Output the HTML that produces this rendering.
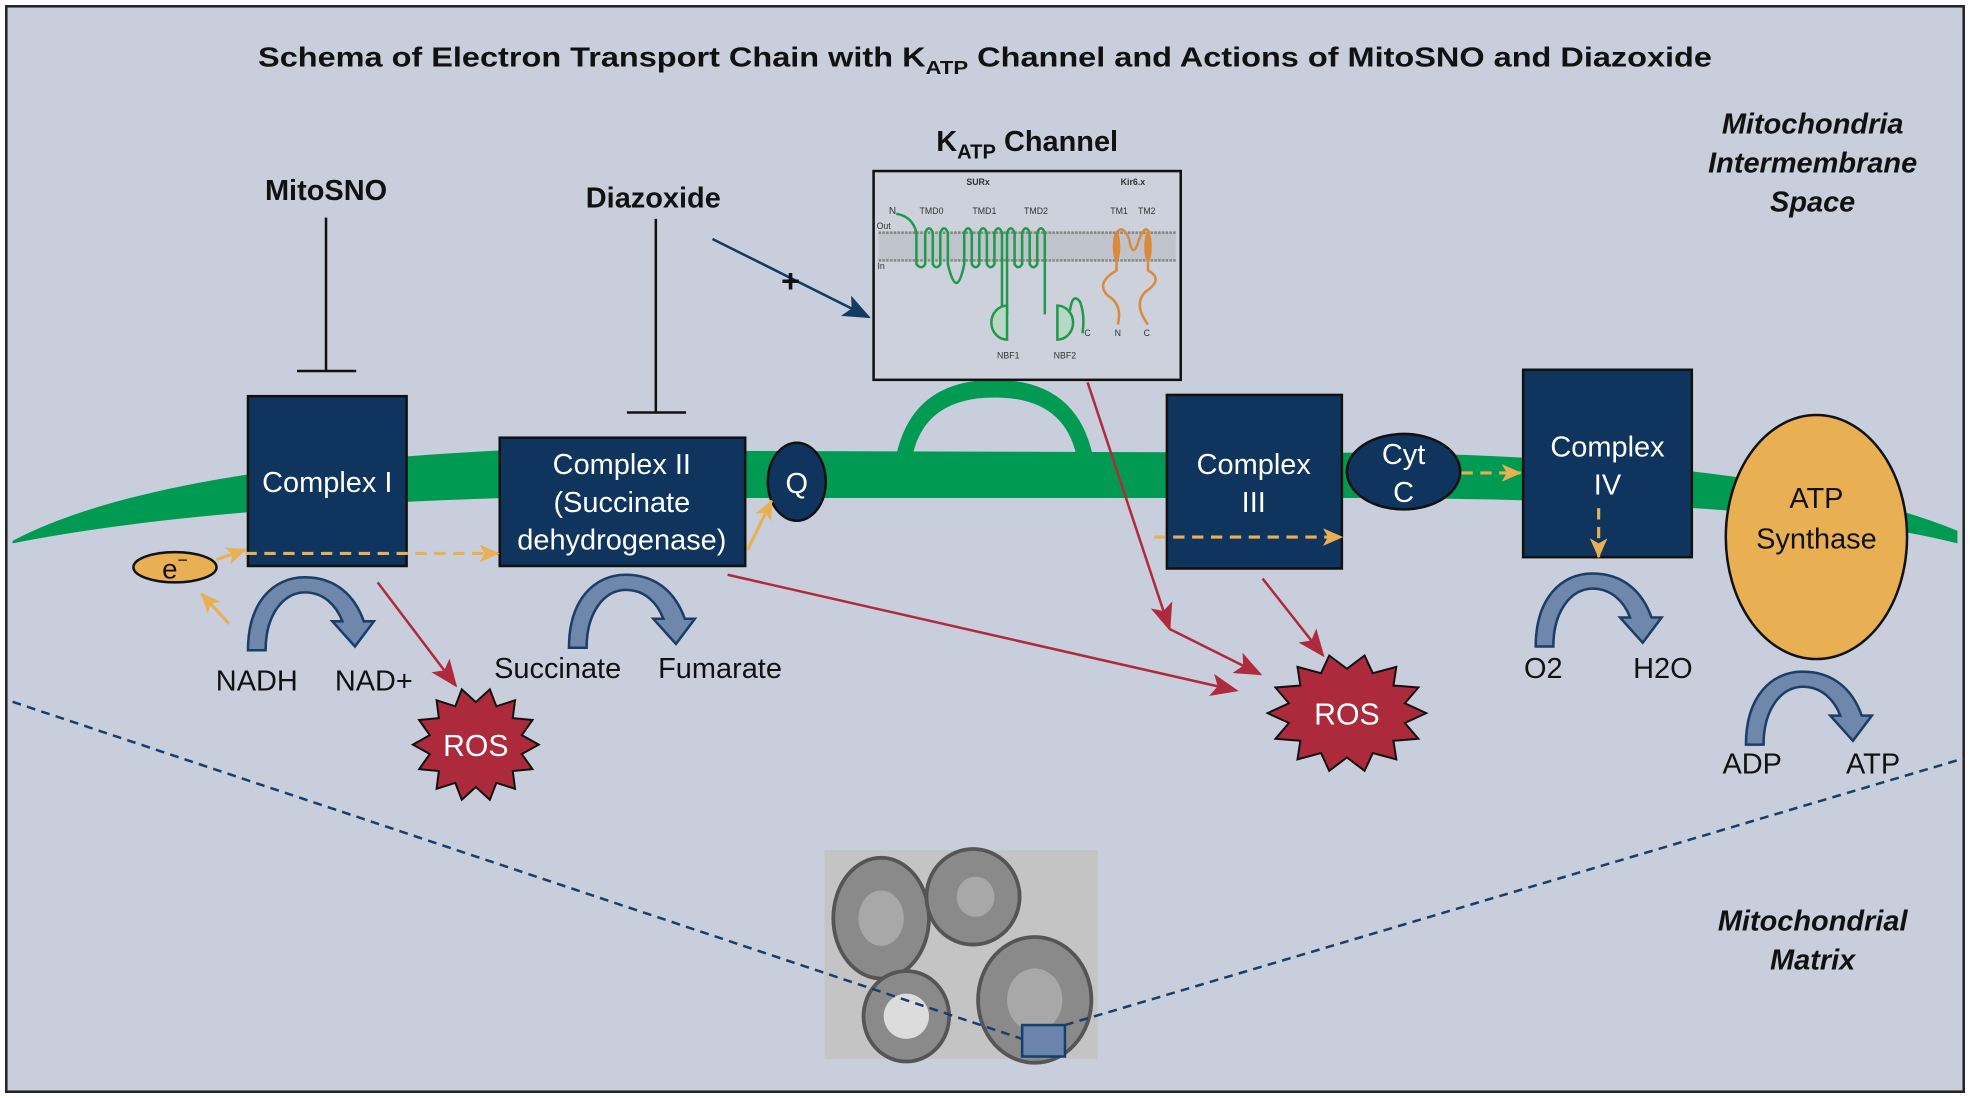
<!DOCTYPE html>
<html><head><meta charset="utf-8"><style>
html,body{margin:0;padding:0;background:#fff}
svg{display:block}
text{font-family:"Liberation Sans",sans-serif}
</style></head><body>
<svg width="1970" height="1098" viewBox="0 0 1565 873" preserveAspectRatio="none" xmlns="http://www.w3.org/2000/svg">
<defs>
<polygon id="star" vector-effect="non-scaling-stroke" points="1,0 .731,.167 .901,.434 .587,.467 .623,.782 .326,.676 .223,.975 0,.75 -.223,.975 -.326,.676 -.623,.782 -.587,.467 -.901,.434 -.731,.167 -1,0 -.731,-.167 -.901,-.434 -.587,-.467 -.623,-.782 -.326,-.676 -.223,-.975 0,-.75 .223,-.975 .326,-.676 .623,-.782 .587,-.467 .901,-.434 .731,-.167"/>
<path id="arc" d="M0,58 C0,20 20,0 45,0 C70,0 85,15 92,35 L100,35 L85,55 L67,35 L75,35 C70,22 60,12 45,12 C28,12 14,30 14,58 Z" fill="#6e87ab" stroke="#1b3d66" stroke-width="2"/>
<marker id="rr" markerWidth="22" markerHeight="22" refX="20" refY="11" orient="auto" markerUnits="userSpaceOnUse"><path d="M0,2 L22,11 L0,20 L5,11Z" fill="#b02a3d"/></marker>
<marker id="oa" markerWidth="16" markerHeight="16" refX="15" refY="8" orient="auto" markerUnits="userSpaceOnUse"><path d="M0,1 L16,8 L0,15 L4,8Z" fill="#e8b052"/></marker>
<marker id="na" markerWidth="22" markerHeight="22" refX="20" refY="11" orient="auto" markerUnits="userSpaceOnUse"><path d="M0,2 L22,11 L0,20 L5,11Z" fill="#123a63"/></marker>
</defs>
<rect x="0" y="0" width="1565" height="873" fill="#fff"/>
<rect x="5" y="5" width="1555" height="863" fill="#c8cedb" stroke="#222" stroke-width="2"/>
<text x="205" y="53" font-size="22" font-weight="bold" fill="#111" textLength="1155" lengthAdjust="spacingAndGlyphs">Schema of Electron Transport Chain with K<tspan font-size="15" dy="6">ATP</tspan><tspan dy="-6"> Channel and Actions of MitoSNO and Diazoxide</tspan></text>
<g font-size="23" font-weight="bold" font-style="italic" text-anchor="middle" fill="#111">
<text x="1440" y="106">Mitochondria</text><text x="1440" y="137">Intermembrane</text><text x="1440" y="168">Space</text>
<text x="1440" y="740">Mitochondrial</text><text x="1440" y="771">Matrix</text>
</g>
<!-- membrane -->
<path d="M10,430 Q120,372 400,358 L1100,360 Q1420,366 1555,422 L1555,432 Q1420,398 1100,396 L400,396 Q150,404 10,432 Z" fill="#009a52"/>
<path d="M712,362 Q725,302 790,302 Q855,302 868,362 L855,362 Q845,316 790,316 Q735,316 725,362 Z" fill="#009a52"/>
<!-- micrograph -->
<rect x="655" y="676" width="217" height="166" fill="#c4c4c4"/>
<g fill="#8a8a8a" stroke="#555" stroke-width="3">
<ellipse cx="700" cy="730" rx="38" ry="48"/><ellipse cx="773" cy="713" rx="37" ry="38"/><ellipse cx="822" cy="795" rx="45" ry="50"/><ellipse cx="720" cy="808" rx="34" ry="36"/>
</g>
<g fill="#a8a8a8"><ellipse cx="700" cy="730" rx="18" ry="22"/><ellipse cx="775" cy="713" rx="15" ry="16"/><ellipse cx="822" cy="795" rx="22" ry="25"/><ellipse cx="720" cy="808" rx="18" ry="18" fill="#dcdcdc"/></g>
<path d="M10,558 L812,826 M846,815 L1560,603" stroke="#173f6b" stroke-width="2" stroke-dasharray="7,5" fill="none"/>
<rect x="812" y="815" width="34" height="25" fill="#6b84ad" stroke="#173f6b" stroke-width="2"/>
<!-- inhibitors -->
<text x="259" y="159" font-size="23" font-weight="bold" text-anchor="middle" fill="#111">MitoSNO</text>
<path d="M259,173 V295 M236,295 H283" stroke="#111" stroke-width="2"/>
<text x="519" y="165" font-size="23" font-weight="bold" text-anchor="middle" fill="#111">Diazoxide</text>
<path d="M521,174 V328 M498,328 H545" stroke="#111" stroke-width="2"/>
<path d="M566,190 L690,252" stroke="#123a63" stroke-width="2" marker-end="url(#na)"/>
<text x="628" y="232" font-size="26" font-weight="bold" text-anchor="middle" fill="#111">+</text>
<!-- KATP -->
<text x="816" y="120" font-size="23" font-weight="bold" text-anchor="middle" fill="#111">K<tspan font-size="16" dy="6">ATP</tspan><tspan dy="-6"> Channel</tspan></text>
<rect x="694" y="136" width="244" height="166" fill="#ccd1dc" stroke="#111" stroke-width="2"/>
<rect x="698" y="184" width="236" height="24" fill="#bfc4cc"/>
<path d="M698,185 H934 M698,207 H934" stroke="#888" stroke-width="2" stroke-dasharray="2,1"/>
<g font-size="7" fill="#333" text-anchor="middle"><text x="777" y="147" font-weight="bold">SURx</text><text x="900" y="147" font-weight="bold">Kir6.x</text><text x="740" y="170">TMD0</text><text x="782" y="170">TMD1</text><text x="823" y="170">TMD2</text><text x="889" y="170">TM1</text><text x="911" y="170">TM2</text><text x="709" y="170" font-size="8">N</text><text x="702" y="182">Out</text><text x="700" y="214">In</text><text x="864" y="267">C</text><text x="888" y="267">N</text><text x="911" y="267">C</text><text x="801" y="285">NBF1</text><text x="846" y="285">NBF2</text></g>
<path d="M712,170 Q725,172 728,185 V210 Q732,215 735,210 V185 Q738,178 741,185 V210 Q744,215 747,210 V185 Q750,178 753,185 V210 Q760,240 766,210 V185 Q769,178 772,185 V210 Q775,215 778,210 V185 Q781,178 784,185 V210 Q787,215 790,210 V185 Q793,178 796,185 V250 M800,250 V210 V185 Q803,178 806,185 V210 Q809,215 812,210 V185 Q815,178 818,185 V210 Q821,215 824,210 V185 Q827,178 830,185 V250 M850,247 Q852,232 858,240 Q862,250 860,265" stroke="#1f9a4a" stroke-width="2" fill="none"/>
<path d="M800,243 A12,13 0 1,0 800,270 Z M840,243 A12,13 0 1,1 840,270 Z" fill="#b9d8c4" stroke="#1f9a4a" stroke-width="2"/>
<path d="M887,185 Q892,178 897,190 Q900,208 905,190 Q910,178 913,185 M887,205 V215 Q870,225 880,235 Q892,242 888,258 M912,205 V215 Q925,222 910,232 Q900,242 912,258" stroke="#d98a3a" stroke-width="2" fill="none"/>
<ellipse cx="887" cy="196" rx="3" ry="12" fill="#d98a3a"/><ellipse cx="912" cy="196" rx="3" ry="12" fill="#d98a3a"/>
<!-- complexes -->
<g fill="#0f355e" stroke="#111" stroke-width="2">
<rect x="197" y="315" width="126" height="135"/>
<rect x="397" y="348" width="195" height="102"/>
<ellipse cx="633" cy="383" rx="23" ry="31"/>
<rect x="927" y="314" width="139" height="138"/>
<ellipse cx="1115" cy="375" rx="45" ry="30"/>
<rect x="1210" y="294" width="134" height="149"/>
</g>
<ellipse cx="1443" cy="427" rx="72" ry="97" fill="#e8b052" stroke="#111" stroke-width="2"/>
<g font-size="23" fill="#fff" text-anchor="middle">
<text x="260" y="391">Complex I</text>
<text x="494" y="377">Complex II</text><text x="494" y="407">(Succinate</text><text x="494" y="437">dehydrogenase)</text>
<text x="633" y="392">Q</text>
<text x="996" y="377">Complex</text><text x="996" y="407">III</text>
<text x="1115" y="369">Cyt</text><text x="1115" y="399">C</text>
<text x="1277" y="363">Complex</text><text x="1277" y="393">IV</text>
<text x="1443" y="404" fill="#111">ATP</text><text x="1443" y="436" fill="#111">Synthase</text>
</g>
<!-- electron -->
<ellipse cx="139" cy="451" rx="33" ry="12" fill="#e8b052" stroke="#111" stroke-width="2"/>
<text x="139" y="460" font-size="22" text-anchor="middle" fill="#111">e<tspan font-size="14" dy="-10">−</tspan></text>
<g stroke="#e8b052" stroke-width="2.5" fill="none">
<path d="M182,496 L160,472" marker-end="url(#oa)"/>
<path d="M172,445 L195,437" marker-end="url(#oa)"/>
<path d="M195,440 H396" stroke-dasharray="9,6" marker-end="url(#oa)"/>
<path d="M594,437 L613,398" marker-end="url(#oa)"/>
<path d="M917,427 H1066" stroke-dasharray="9,6" marker-end="url(#oa)"/>
<path d="M1161,376 H1208" stroke-dasharray="9,6" marker-end="url(#oa)"/>
<path d="M1270,404 V443" stroke-dasharray="9,6" marker-end="url(#oa)"/>
</g>
<!-- red arrows -->
<g stroke="#b02a3d" stroke-width="2" fill="none">
<path d="M300,463 L362,545" marker-end="url(#rr)"/>
<path d="M578,457 L982,549" marker-end="url(#rr)"/>
<path d="M864,304 L929,500" marker-end="url(#rr)"/>
<path d="M929,500 L1001,536" marker-end="url(#rr)"/>
<path d="M1003,460 L1051,521" marker-end="url(#rr)"/>
</g>
<!-- ROS -->
<use href="#star" transform="translate(378,592) scale(50,45)" fill="#ad2a3c" stroke="#111" stroke-width="2"/>
<use href="#star" transform="translate(1070,567) scale(63,47)" fill="#ad2a3c" stroke="#111" stroke-width="2"/>
<text x="378" y="601" font-size="24" fill="#fff" text-anchor="middle">ROS</text>
<text x="1070" y="576" font-size="24" fill="#fff" text-anchor="middle">ROS</text>
<!-- curved arrows -->
<use href="#arc" transform="translate(197,459)"/>
<use href="#arc" transform="translate(452,457)"/>
<use href="#arc" transform="translate(1220,456)"/>
<use href="#arc" transform="translate(1387,534)"/>
<g font-size="23" fill="#111" text-anchor="middle">
<text x="204" y="549">NADH</text><text x="297" y="549">NAD+</text>
<text x="443" y="539">Succinate</text><text x="572" y="539">Fumarate</text>
<text x="1226" y="539">O2</text><text x="1321" y="539">H2O</text>
<text x="1392" y="615">ADP</text><text x="1488" y="615">ATP</text>
</g>
</svg>
</body></html>
